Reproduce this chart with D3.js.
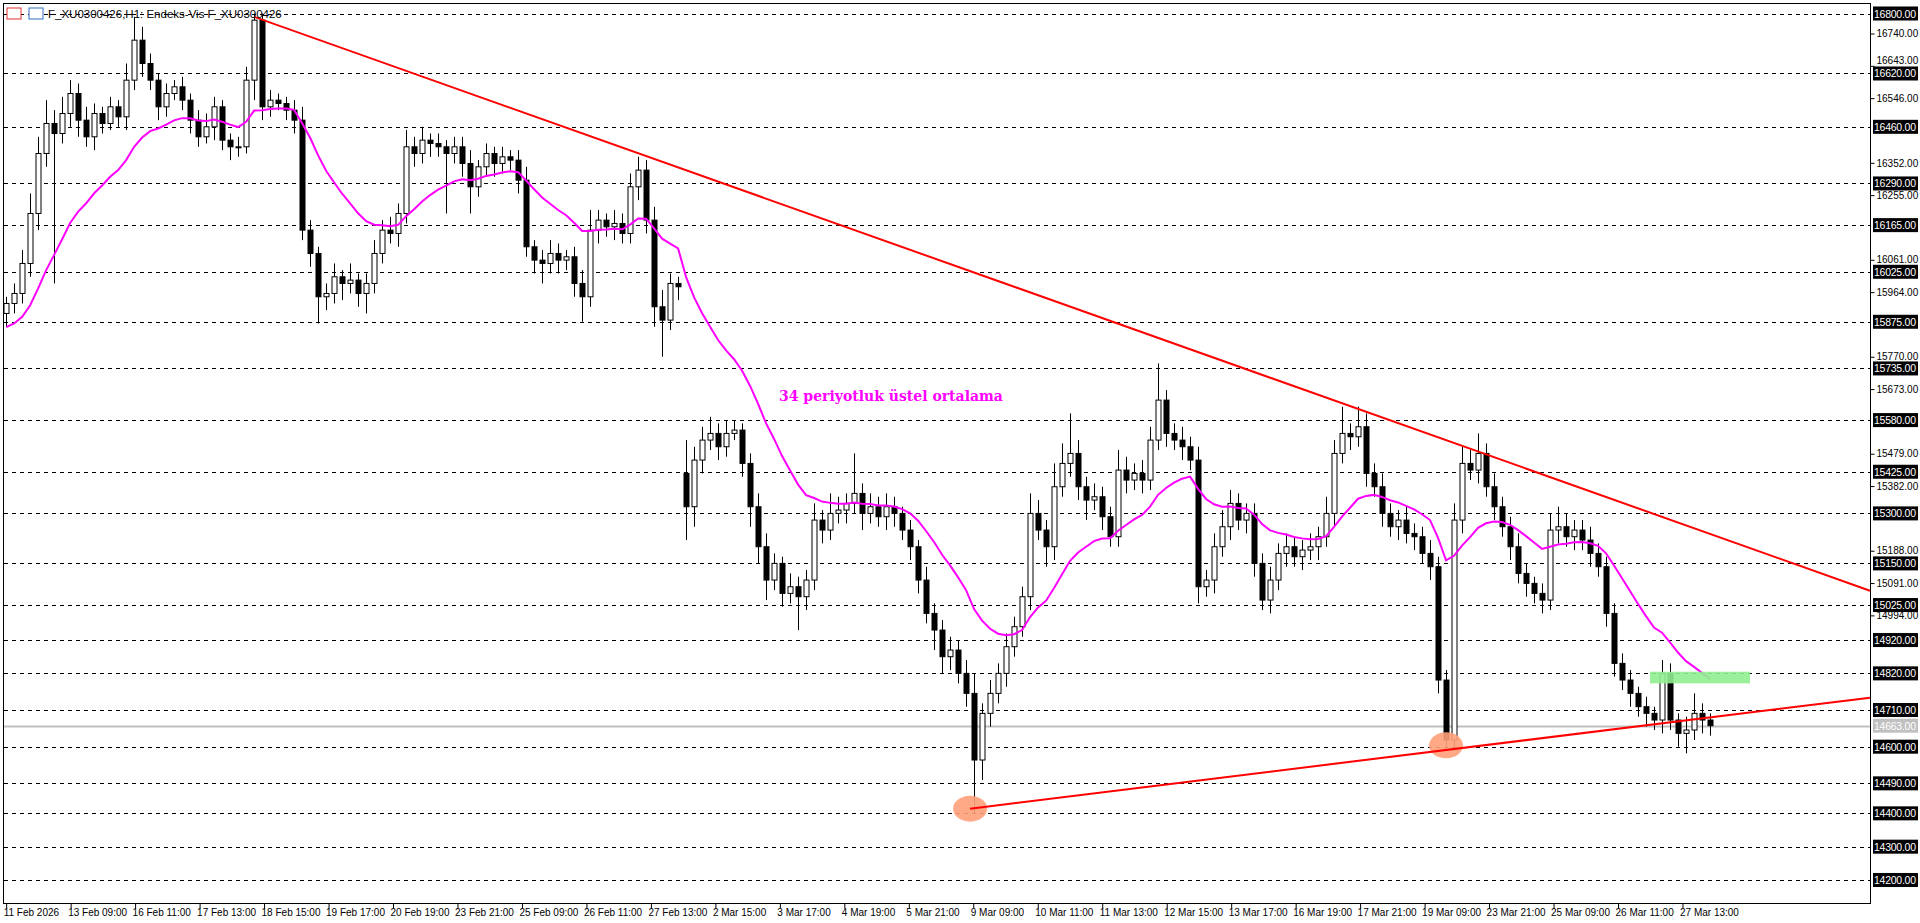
<!DOCTYPE html>
<html><head><meta charset="utf-8">
<script src="https://cdn.jsdelivr.net/npm/d3@7"></script>
<style>body{margin:0;background:#fff;overflow:hidden}svg{display:block}</style>
</head><body><svg id="c" width="1920" height="923"></svg>
<script>
const closes=[15930,15960,16050,16200,16380,16470,16440,16500,16560,16480,16430,16500,16470,16520,16490,16600,16720,16650,16600,16520,
16560,16580,16540,16480,16430,16460,16520,16420,16400,16400,16600,16780,16520,16540,16530,16510,16480,16150,16080,15950,
15960,16010,15990,16000,15960,15990,16080,16150,16140,16200,16400,16380,16420,16410,16400,16380,16400,16350,16280,16340,
16380,16350,16370,16360,16300,16100,16060,16050,16080,16060,16070,15990,15950,16150,16180,16160,16170,16140,16280,16330,
16180,15920,15880,15990,15980,15320,15460,15520,15540,15500,15540,15550,15450,15320,15200,15100,15150,15060,15080,15050,
15100,15280,15250,15300,15310,15330,15360,15300,15320,15290,15320,15300,15250,15200,15100,15000,14950,14870,14890,14820,
14760,14560,14700,14760,14820,14900,14960,15050,15300,15250,15200,15380,15450,15480,15380,15340,15350,15290,15230,15430,
15400,15420,15400,15520,15640,15540,15520,15500,15460,15080,15100,15200,15260,15330,15280,15300,15150,15040,15100,15180,
15200,15170,15190,15200,15230,15300,15480,15540,15530,15560,15420,15380,15300,15260,15280,15240,15230,15180,15140,14800,
14620,15280,15450,15430,15480,15380,15320,15260,15200,15120,15090,15060,15040,15250,15260,15230,15250,15220,15180,15140,
15000,14850,14800,14760,14720,14700,14680,14820,14680,14640,14650,14700,14680,14663];
const upWick=[20,30,40,60,50,70,40,50,40,30,40,30,20,30,20,50,70,40,30,20,
30,20,30,20,30,40,30,20,20,30,40,20,20,30,20,20,30,40,30,20,
30,40,20,50,20,30,40,30,40,30,50,30,40,20,30,20,30,30,40,20,
30,20,30,20,30,40,20,30,40,30,20,30,40,60,30,20,40,30,40,40,
30,40,50,30,20,100,40,40,50,30,40,30,20,30,40,40,30,20,40,30,
30,50,30,60,40,30,120,30,40,30,40,30,20,30,20,40,30,30,40,30,
40,60,30,40,30,40,30,30,60,40,30,70,60,120,40,30,40,30,30,60,
40,30,40,40,110,30,30,40,30,40,30,40,50,40,30,30,30,30,40,30,
40,30,30,40,30,50,40,80,30,60,40,30,40,30,30,40,30,30,40,30,
30,50,50,40,60,30,40,30,30,40,30,20,30,50,60,40,30,30,40,30,
30,30,30,30,20,30,20,40,30,20,40,60,30,20];
const dnWick=[40,30,30,40,50,40,450,30,40,50,30,40,30,20,30,40,30,40,30,40,
30,20,30,40,30,20,40,30,40,30,20,60,40,30,20,30,40,30,40,80,
40,30,50,30,40,60,30,30,30,40,30,40,30,40,30,180,30,40,80,30,
30,40,30,30,40,30,40,60,30,40,30,40,75,30,40,30,40,30,30,40,
40,60,110,30,40,100,60,40,30,40,30,20,40,60,50,60,30,40,30,100,
40,30,40,30,30,40,30,50,30,30,40,40,30,40,40,30,60,50,40,30,
40,160,60,40,30,40,30,30,40,30,60,40,30,40,40,60,30,40,30,30,
40,30,40,30,30,40,30,40,30,50,30,40,30,40,30,40,40,30,40,30,
40,30,40,30,40,30,40,30,40,30,40,30,40,30,40,30,40,30,40,40,
20,30,40,30,40,30,40,30,40,30,40,30,40,30,40,30,40,30,40,30,
40,40,30,40,30,40,30,40,30,40,60,30,40,30];
const timeLabels=["11 Feb 2026","13 Feb 09:00","16 Feb 11:00","17 Feb 13:00","18 Feb 15:00","19 Feb 17:00","20 Feb 19:00","23 Feb 21:00","25 Feb 09:00","26 Feb 11:00","27 Feb 13:00","2 Mar 15:00","3 Mar 17:00","4 Mar 19:00","5 Mar 21:00","9 Mar 09:00","10 Mar 11:00","11 Mar 13:00","12 Mar 15:00","13 Mar 17:00","16 Mar 19:00","17 Mar 21:00","19 Mar 09:00","23 Mar 21:00","25 Mar 09:00","26 Mar 11:00","27 Mar 13:00"];
const levelLines=[16800,16620,16460,16290,16165,16025,15875,15735,15580,15425,15300,15150,15025,14920,14820,14710,14600,14490,14400,14300,14200];
const plainTicks=[16740,16643,16546,16352,16255,16061,15964,15770,15673,15479,15382,15188,15091,14994];
const lastPrice=14663;
const upperTrend=[[31,16790],[233,15068]];
const lowerTrend=[[120.5,14414],[233,14747]];
const lows=[[120.5,14414],[180,14604]];
const greenZone=[205.5,218,14825,14790];
const emaPeriod=17, emaSeed=15850;

const svg=d3.select("#c");
const PR=1870, PB=903;
const x=d3.scaleLinear().domain([-0.77,233]).range([0,PR]);
const y=d3.scaleLinear().domain([14200,16800]).range([880,13.5]);

svg.append("rect").attr("x",3.5).attr("y",3.5).attr("width",PR-3).attr("height",PB-3).attr("fill","none").attr("stroke","#000");
const g=svg.append("g");
levelLines.forEach(v=>g.append("line").attr("x1",4).attr("x2",PR).attr("y1",Math.round(y(v))+.5).attr("y2",Math.round(y(v))+.5).attr("stroke","#000").attr("stroke-dasharray","4,4"));
g.append("line").attr("x1",4).attr("x2",PR).attr("y1",Math.round(y(lastPrice))+.5).attr("y2",Math.round(y(lastPrice))+.5).attr("stroke","#c0c0c0").attr("stroke-width",2);

const ax=svg.append("g").attr("font-family","Liberation Sans, Arial").attr("font-size",10.5);
const ya=d3.axisRight(y).tickValues(plainTicks).tickSize(4).tickFormat(d=>d.toFixed(2));
const yg=ax.append("g").attr("transform",`translate(${PR+0.5},0)`).call(ya);
yg.select(".domain").remove();
yg.selectAll("text").attr("x",6).attr("dy",d=>d===16643?"-0.25em":"0.32em");
levelLines.forEach(v=>{const yy=y(v);ax.append("rect").attr("x",PR+3).attr("y",yy-7).attr("width",45).attr("height",14).attr("fill","#000");
ax.append("text").attr("x",PR+4).attr("y",yy+4).attr("fill","#fff").attr("textLength",42).text(v.toFixed(2));});
{const yy=y(lastPrice);ax.append("rect").attr("x",PR+3).attr("y",yy-7).attr("width",45).attr("height",14).attr("fill","#c0c0c0");
ax.append("text").attr("x",PR+4).attr("y",yy+4).attr("fill","#fff").attr("textLength",42).text(lastPrice.toFixed(2));}

const xa=d3.axisBottom(x).tickValues(timeLabels.map((d,i)=>i*8.06)).tickSize(5).tickFormat((d,i)=>timeLabels[i]);
const xg=ax.append("g").attr("transform",`translate(0,${PB+0.5})`).call(xa);
xg.select(".domain").remove();
xg.selectAll("text").attr("text-anchor","start").attr("dx",-3).attr("dy",4);

const cg=svg.append("g");
closes.forEach((c,i)=>{
  const o=i===0?15900:(i===85?15420:closes[i-1]);
  const hi=Math.max(o,c)+upWick[i], lo=Math.min(o,c)-dnWick[i];
  const cx=Math.round(x(i))+.5;
  cg.append("line").attr("x1",cx).attr("x2",cx).attr("y1",y(hi)).attr("y2",y(lo)).attr("stroke","#000");
  const top=y(Math.max(o,c)), bot=y(Math.min(o,c));
  cg.append("rect").attr("x",cx-2.5).attr("y",top).attr("width",5).attr("height",Math.max(1,bot-top))
    .attr("fill",c>=o?"#fff":"#000").attr("stroke","#000");
});

let e=emaSeed;const k=2/(emaPeriod+1);
const ema=closes.map(c=>(e=c*k+e*(1-k)));
svg.append("path").attr("d",d3.line().x((d,i)=>x(i)).y(d=>y(d))(ema)).attr("fill","none").attr("stroke","#ff00ff").attr("stroke-width",2);

svg.append("rect").attr("x",x(greenZone[0])).attr("y",y(greenZone[2])).attr("width",x(greenZone[1])-x(greenZone[0])).attr("height",y(greenZone[3])-y(greenZone[2])).attr("fill","#90ee90").attr("opacity",.9);
lows.forEach(([i,v])=>svg.append("ellipse").attr("cx",x(i)).attr("cy",y(v)).attr("rx",17).attr("ry",13).attr("fill","#ffa07a").attr("opacity",.9));

[upperTrend,lowerTrend].forEach(t=>svg.append("line").attr("x1",x(t[0][0])).attr("y1",y(t[0][1])).attr("x2",x(t[1][0])).attr("y2",y(t[1][1])).attr("stroke","#ff0000").attr("stroke-width",2));

svg.append("text").attr("x",779).attr("y",401).attr("fill","#ff00ff").attr("font-family","DejaVu Serif").attr("font-weight","bold").attr("font-size",14).text("34 periyotluk üstel ortalama");

svg.append("rect").attr("x",7).attr("y",8).attr("width",14).attr("height",11).attr("fill","#fff").attr("stroke","#e03030");
svg.append("rect").attr("x",29).attr("y",8).attr("width",14).attr("height",11).attr("fill","#fff").attr("stroke","#3070c0");
svg.append("text").attr("x",48).attr("y",18).attr("font-family","Liberation Sans, Arial").attr("font-size",11.5).text("F_XU0300426,H1: Endeks-Vis F_XU0300426");
</script></body></html>
